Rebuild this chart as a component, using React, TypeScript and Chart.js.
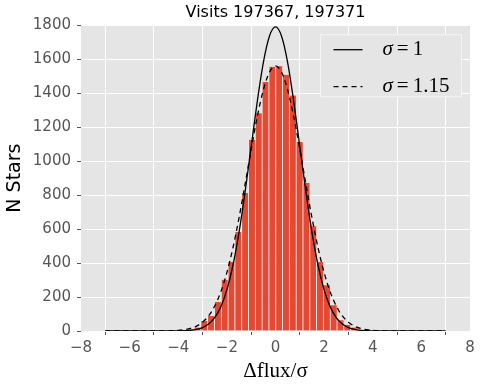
import React, { useEffect, useRef } from 'react';
import { Chart, registerables } from 'chart.js';

Chart.register(...registerables);

const TITLE = 'Visits 197367, 197371';
const X_LABEL = 'Δflux/σ';
const Y_LABEL = 'N Stars';
const X_MIN = -8;
const X_MAX = 8;
const X_STEP = 2;
const Y_MIN = 0;
const Y_MAX = 1800;
const Y_STEP = 200;

// histogram bins (width 0.28 on -7..7); centers and counts
const BIN_CENTERS = [
  -4.34, -4.06, -3.78, -3.5, -3.22, -2.94, -2.66, -2.38, -2.1, -1.82, -1.54, -1.26, -0.98, -0.7, -0.42, -0.14,
  0.14, 0.42, 0.7, 0.98, 1.26, 1.54, 1.82, 2.1, 2.38, 2.66, 2.94, 3.22, 3.5, 3.78, 4.06, 4.34,
];
const BIN_COUNTS = [
  0, 1, 2, 10, 20, 59, 88, 171, 302, 406, 583, 812, 1126, 1282, 1465, 1555,
  1558, 1508, 1386, 1112, 871, 616, 406, 269, 151, 63, 37, 20, 8, 3, 1, 0,
];

// curve sample positions and values
const CURVE_X = [
  -7, -4.5, -4.25, -4, -3.75, -3.5, -3.25, -3, -2.75, -2.5, -2.25, -2, -1.75, -1.5, -1.25, -1, -0.75, -0.5, -0.25,
  0, 0.25, 0.5, 0.75, 1, 1.25, 1.5, 1.75, 2, 2.25, 2.5, 2.75, 3, 3.25, 3.5, 3.75, 4, 4.25, 4.5, 7,
];
const CURVE_SIGMA_1 = [
  0, 0, 0, 1, 2, 4, 9, 20, 41, 79, 142, 242, 387, 581, 819, 1086, 1351, 1580, 1735,
  1790, 1735, 1580, 1351, 1086, 819, 581, 387, 242, 142, 79, 41, 20, 9, 4, 2, 1, 0, 0, 0,
];
const CURVE_SIGMA_115 = [
  0, 1, 2, 4, 8, 15, 29, 52, 89, 147, 230, 344, 490, 666, 864, 1069, 1261, 1419, 1523,
  1560, 1523, 1419, 1261, 1069, 864, 666, 490, 344, 230, 147, 89, 52, 29, 15, 8, 4, 2, 1, 0,
];

const LEGEND_SYMBOL = 'σ';
const LEGEND_VALUES = ['1', '1.15'];

const BAR_COLOR = '#E24A33';
const PANEL_BG = '#E5E5E5';
const TICK_COLOR = '#555555';

const panelPlugin = {
  id: 'panelBg',
  beforeDraw(chart: any) {
    const { ctx, chartArea: a } = chart;
    ctx.save();
    ctx.fillStyle = PANEL_BG;
    ctx.fillRect(a.left, a.top, a.right - a.left, a.bottom - a.top);
    ctx.restore();
  },
};

const legendPlugin = {
  id: 'mathLegend',
  afterDraw(chart: any) {
    const { ctx, chartArea: a } = chart;
    const right = a.right - 8.5;
    const top = a.top + 9.5;
    const w = 141;
    const h = 62;
    const left = right - w;
    ctx.save();
    ctx.fillStyle = PANEL_BG;
    ctx.fillRect(left, top, w, h);
    ctx.strokeStyle = '#F4F4F4';
    ctx.lineWidth = 1;
    ctx.strokeRect(left, top, w, h);
    const dashes = [[], [5, 4]];
    LEGEND_VALUES.forEach((v, i) => {
      const y = top + 15 + i * 37;
      ctx.strokeStyle = '#000';
      ctx.lineWidth = 1.3;
      ctx.setLineDash(dashes[i]);
      ctx.beginPath();
      ctx.moveTo(left + 13, y);
      ctx.lineTo(left + 42, y);
      ctx.stroke();
      ctx.setLineDash([]);
      ctx.fillStyle = '#000';
      ctx.textBaseline = 'middle';
      ctx.textAlign = 'left';
      let x = left + 62;
      ctx.font = 'italic 21px "Liberation Serif"';
      ctx.fillText(LEGEND_SYMBOL, x, y);
      x += ctx.measureText(LEGEND_SYMBOL).width + 4;
      ctx.font = '21px "Liberation Serif"';
      ctx.fillText('=', x, y);
      x += ctx.measureText('=').width + 4;
      ctx.fillText(v, x, y);
    });
    ctx.restore();
  },
};

export default function App() {
  const ref = useRef<HTMLCanvasElement>(null);
  useEffect(() => {
    if (!ref.current) return;
    const tickFont = { family: '"DejaVu Sans"', size: 15 };
    const chart = new Chart(ref.current, {
      type: 'bar',
      data: {
        datasets: [
          {
            type: 'line',
            label: 'sigma1',
            data: CURVE_X.map((x, i) => ({ x, y: CURVE_SIGMA_1[i] })),
            borderColor: '#000',
            borderWidth: 1.3,
            pointRadius: 0,
            cubicInterpolationMode: 'monotone',
            order: 0,
          } as any,
          {
            type: 'line',
            label: 'sigma115',
            data: CURVE_X.map((x, i) => ({ x, y: CURVE_SIGMA_115[i] })),
            borderColor: '#000',
            borderWidth: 1.3,
            borderDash: [5, 4],
            pointRadius: 0,
            cubicInterpolationMode: 'monotone',
            order: 1,
          } as any,
          {
            type: 'bar',
            label: 'hist',
            data: BIN_CENTERS.map((x, i) => ({ x, y: BIN_COUNTS[i] })),
            backgroundColor: BAR_COLOR,
            borderColor: 'rgba(255,240,238,0.85)',
            borderWidth: { left: 1, top: 0, right: 0, bottom: 0 },
            borderSkipped: false,
            barPercentage: 1,
            categoryPercentage: 1,
            order: 2,
          } as any,
        ],
      },
      options: {
        animation: false,
        responsive: false,
        layout: { padding: { left: 0, right: 12, top: 0, bottom: 0 } },
        plugins: {
          legend: { display: false },
          tooltip: { enabled: false },
          title: {
            display: true,
            text: TITLE,
            fullSize: false,
            color: '#000',
            font: { family: '"DejaVu Sans"', size: 16, weight: 'normal', lineHeight: 1.2 },
            padding: { top: 3, bottom: 3 },
          },
        },
        scales: {
          x: {
            type: 'linear',
            min: X_MIN,
            max: X_MAX,
            offset: false,
            afterFit: (s: any) => {
              s.height = 60;
            },
            border: { display: false },
            grid: { color: '#FFFFFF', lineWidth: 1, tickColor: TICK_COLOR, tickLength: 4, drawTicks: true },
            ticks: {
              stepSize: X_STEP,
              color: TICK_COLOR,
              font: tickFont,
              padding: 4,
              maxRotation: 0,
              callback: (v: any) => String(v).replace('-', '\u2212'),
            },
            title: {
              display: true,
              text: X_LABEL,
              color: '#000',
              font: { family: '"Liberation Serif"', size: 21, lineHeight: 1.2 },
              padding: { top: 0, bottom: 7 },
            },
          },
          y: {
            type: 'linear',
            min: Y_MIN,
            max: Y_MAX,
            afterFit: (s: any) => {
              s.width = 81;
            },
            border: { display: false },
            grid: { color: '#FFFFFF', lineWidth: 1, tickColor: TICK_COLOR, tickLength: 4, drawTicks: true },
            ticks: {
              stepSize: Y_STEP,
              color: TICK_COLOR,
              font: tickFont,
              padding: 6,
              callback: (v: any) => String(v),
            },
            title: {
              display: true,
              text: Y_LABEL,
              color: '#000',
              font: { family: '"DejaVu Sans"', size: 19, lineHeight: 1.2 },
              padding: { top: 4, bottom: 0 },
            },
          },
        },
      } as any,
      plugins: [panelPlugin, legendPlugin],
    });
    return () => chart.destroy();
  }, []);
  return (
    <div style={{ position: 'absolute', left: 0, top: 0, width: 482, height: 391, background: '#fff' }}>
      <canvas ref={ref} width={482} height={391} style={{ display: 'block' }} />
    </div>
  );
}
